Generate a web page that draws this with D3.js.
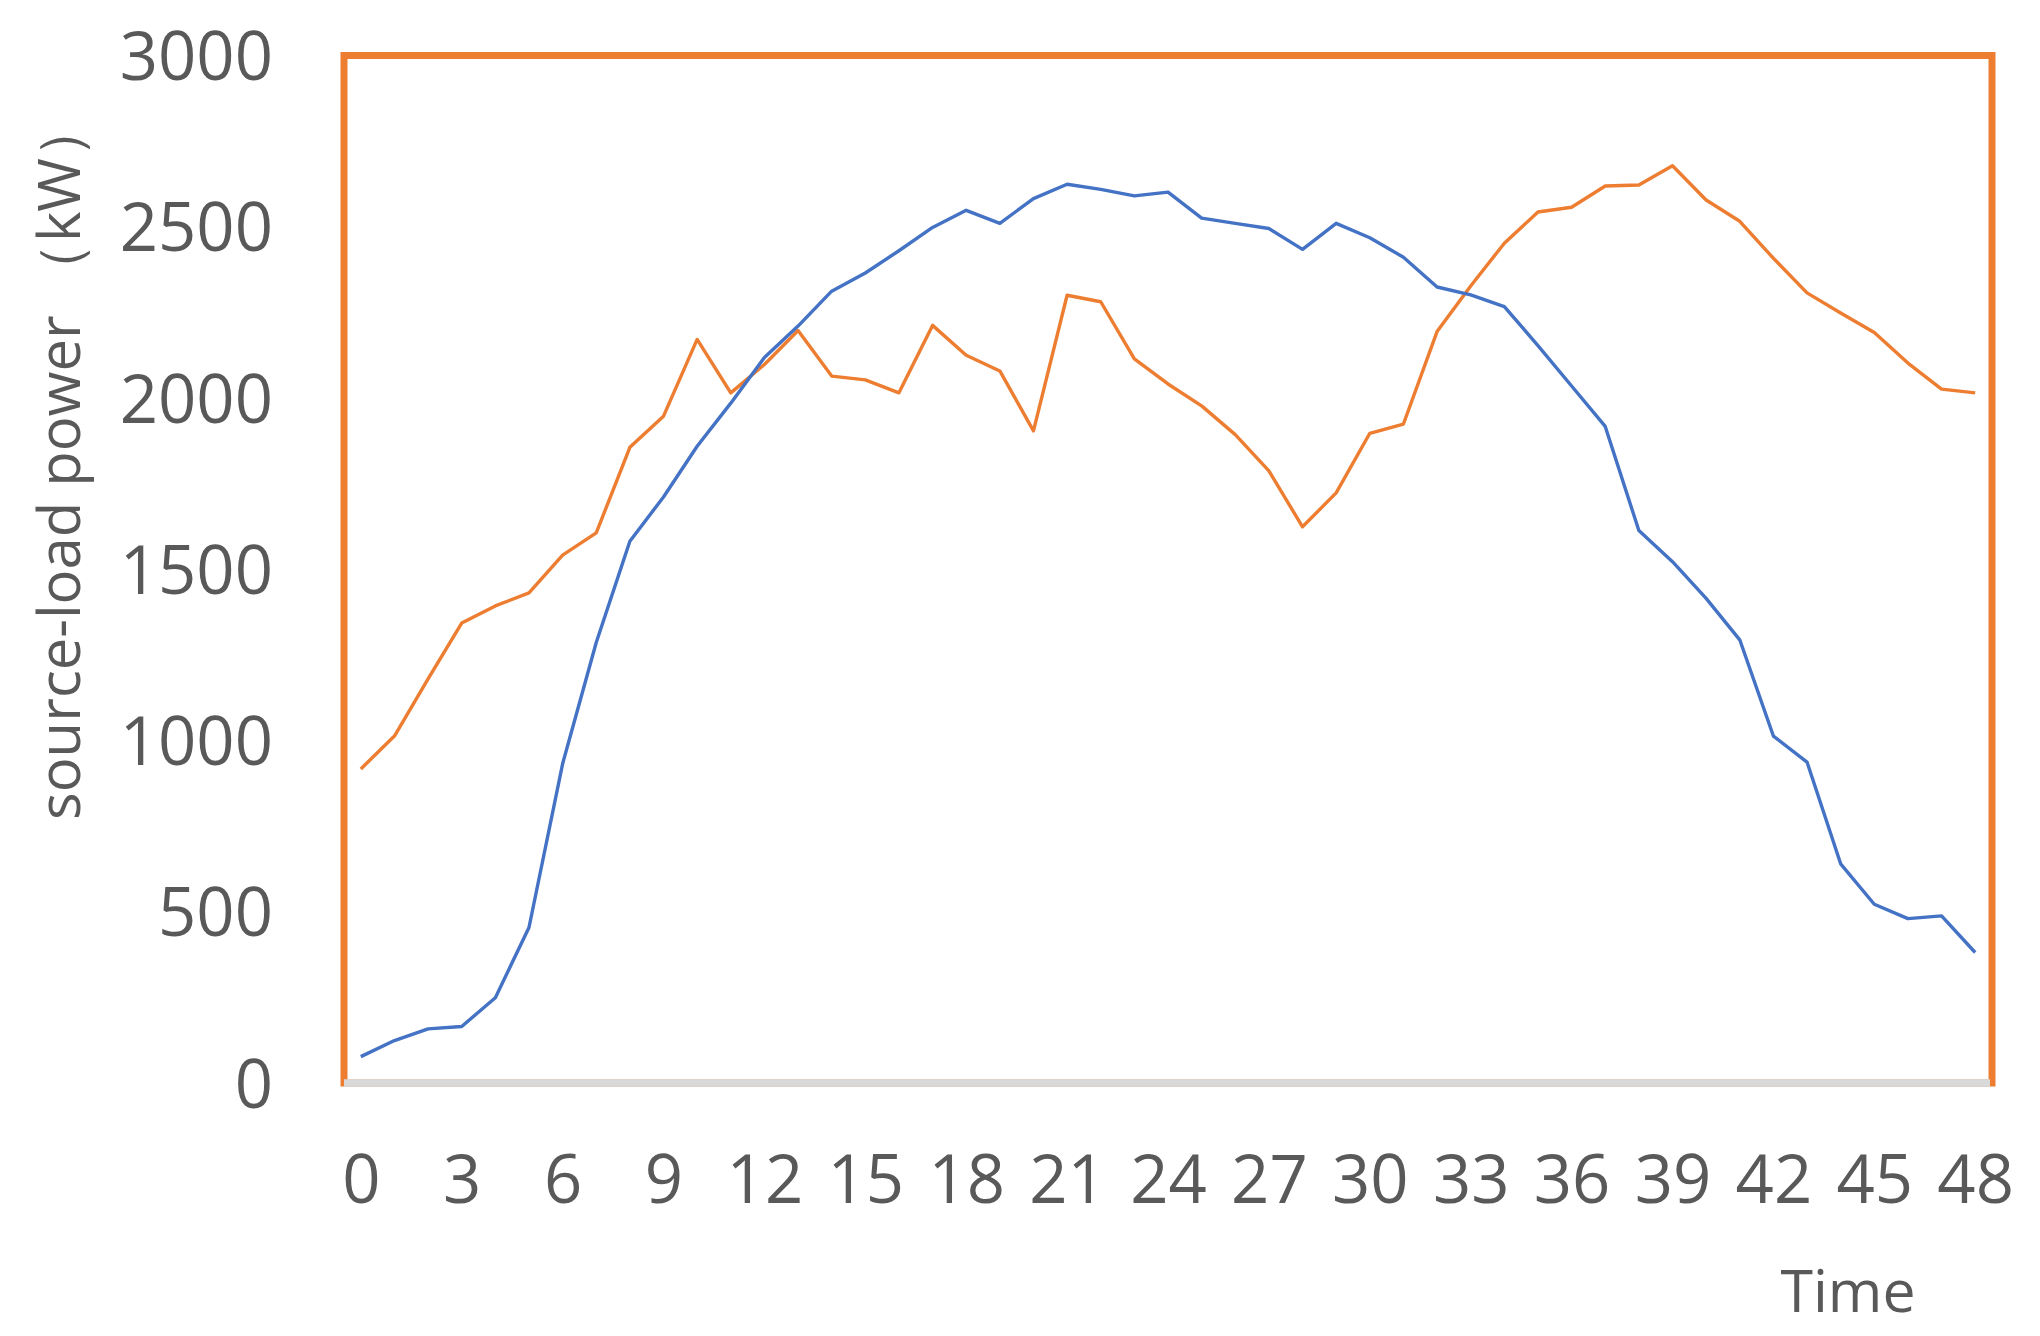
<!DOCTYPE html>
<html>
<head>
<meta charset="utf-8">
<script src="https://cdn.jsdelivr.net/npm/d3@7"></script>
<style>
  body { margin: 0; background: #fff; }
  .tick text { fill: #595959; font-family: "Open Sans", sans-serif; }
</style>
</head>
<body>
<div class="chart"></div>
<script>
// categories (time steps)
var times = [0, 1, 2, 3, 4, 5, 6, 7, 8, 9, 10, 11, 12, 13, 14, 15, 16, 17, 18, 19, 20, 21, 22, 23, 24,
             25, 26, 27, 28, 29, 30, 31, 32, 33, 34, 35, 36, 37, 38, 39, 40, 41, 42, 43, 44, 45, 46, 47, 48];
var timeTicks = [0, 3, 6, 9, 12, 15, 18, 21, 24, 27, 30, 33, 36, 39, 42, 45, 48];
var powerTicks = [0, 500, 1000, 1500, 2000, 2500, 3000];

// blue series
var sourcePower = [77, 124, 158, 165, 249, 454, 932, 1286, 1582, 1711, 1859, 1985, 2118, 2210, 2312,
                   2365, 2430, 2498, 2548, 2510, 2582, 2624, 2609, 2590, 2601, 2525, 2510, 2495, 2434,
                   2510, 2468, 2411, 2324, 2301, 2267, 2153, 2035, 1917, 1613, 1522, 1415, 1294, 1013,
                   937, 640, 522, 480, 488, 381];
// orange series
var loadPower = [917, 1013, 1180, 1343, 1393, 1431, 1541, 1606, 1856, 1947, 2171, 2015, 2098, 2197, 2064,
                 2053, 2015, 2212, 2125, 2079, 1904, 2300, 2281, 2114, 2041, 1977, 1893, 1787, 1624,
                 1723, 1897, 1924, 2194, 2327, 2452, 2543, 2557, 2619, 2622, 2678, 2578, 2516, 2408,
                 2307, 2248, 2191, 2102, 2026, 2015];

// svg size
var svgW = 2040;
var svgH = 1336;

var margin = { top: 55.5, right: 48, bottom: 253, left: 344 };
var chartW = svgW - margin.left - margin.right;
var chartH = svgH - margin.top - margin.bottom;

var svg = d3.select(".chart")
    .append("svg")
    .attr("width", svgW)
    .attr("height", svgH);

var chart = svg.append("g")
    .attr("transform", "translate(" + margin.left + "," + margin.top + ")");

// scales
var x = d3.scalePoint().domain(times).range([0, chartW]).padding(0.5);
var y = d3.scaleLinear().domain([0, 3000]).range([chartH, 0]);

// plot frame
chart.append("rect")
    .attr("x", 0)
    .attr("y", 0)
    .attr("width", chartW)
    .attr("height", chartH)
    .attr("fill", "none")
    .attr("stroke", "#ED7D31")
    .attr("stroke-width", 7);

// lines
var line = function(vals) {
    return d3.line()
        .x(function(d, i) { return x(times[i]); })
        .y(function(d) { return y(d); })(vals);
};

chart.append("path")
    .attr("d", line(loadPower))
    .attr("fill", "none")
    .attr("stroke", "#ED7D31")
    .attr("stroke-width", 3.4)
    .attr("stroke-linejoin", "round");

chart.append("path")
    .attr("d", line(sourcePower))
    .attr("fill", "none")
    .attr("stroke", "#4472C4")
    .attr("stroke-width", 3.4)
    .attr("stroke-linejoin", "round");

// x axis
var xaxis = d3.axisBottom(x).tickValues(timeTicks).tickSize(0);
var gx = chart.append("g")
    .attr("class", "x axis")
    .attr("transform", "translate(0," + chartH + ")")
    .call(xaxis);
gx.select(".domain").remove();
gx.selectAll(".tick text")
    .attr("y", 120)
    .attr("dy", 0)
    .style("font-size", "67px");

// grey category axis line, covers the frame bottom
chart.append("line")
    .attr("x1", 0)
    .attr("x2", chartW - 2)
    .attr("y1", chartH)
    .attr("y2", chartH)
    .attr("stroke", "#D9D9D9")
    .attr("stroke-width", 7.5);

// y axis
var yaxis = d3.axisLeft(y).tickValues(powerTicks).tickSize(0).tickFormat(d3.format("d"));
var gy = chart.append("g")
    .attr("class", "y axis")
    .call(yaxis);
gy.select(".domain").remove();
gy.selectAll(".tick text")
    .attr("x", -71)
    .attr("dy", "0.36em")
    .style("font-size", "67px");

// axis titles
svg.append("text")
    .attr("x", 1848)
    .attr("y", 1312)
    .attr("text-anchor", "middle")
    .attr("fill", "#595959")
    .style("font-family", "Open Sans, sans-serif")
    .style("font-size", "59px")
    .text("Time");

svg.append("text")
    .attr("transform", "translate(80,460) rotate(-90)")
    .attr("text-anchor", "middle")
    .attr("fill", "#595959")
    .style("font-family", "Open Sans, sans-serif")
    .style("font-size", "58px")
    .text("source-load power （kW）");
</script>
</body>
</html>
